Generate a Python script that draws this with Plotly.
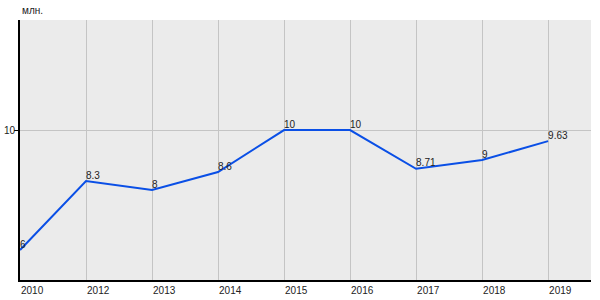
import plotly.graph_objects as go

years = ["2010", "2012", "2013", "2014", "2015", "2016", "2017", "2018", "2019"]
values = [6, 8.3, 8, 8.6, 10, 10, 8.71, 9, 9.63]
labels = ["6", "8.3", "8", "8.6", "10", "10", "8.71", "9", "9.63"]
y_ticks = [10]
unit = "млн."

fig = go.Figure()
fig.add_trace(go.Scatter(
    x=years, y=values, mode="lines+text", text=labels,
    textposition="top right",
    textfont=dict(family="Arial, Liberation Sans", size=10, color="#222"),
    line=dict(color="#0a4fe6", width=2),
    cliponaxis=False, hoverinfo="skip"))

fig.update_layout(
    width=600, height=300,
    margin=dict(l=20, r=9, t=20, b=20),
    paper_bgcolor="white", plot_bgcolor="#ebebeb",
    showlegend=False,
    font=dict(family="Arial, Liberation Sans", size=10, color="#222"),
    xaxis=dict(type="category", range=[0, 8.65], showgrid=True,
               gridcolor="#c4c4c4", gridwidth=1, showline=True,
               linecolor="black", linewidth=2, ticks="",
               ticklabelposition="outside right", zeroline=False,
               automargin=False,
               tickfont=dict(size=10, color="#222")),
    yaxis=dict(range=[5, 13.67], tickvals=y_ticks, showgrid=True,
               gridcolor="#c4c4c4", gridwidth=1, showline=True,
               linecolor="black", linewidth=2, ticks="outside",
               ticklen=4, tickcolor="black", zeroline=False,
               automargin=False, ticklabelstandoff=-3,
               tickfont=dict(size=10, color="#222")),
    annotations=[dict(text=unit, x=0, y=1, xref="paper", yref="paper",
                      xanchor="left", yanchor="bottom", yshift=2,
                      showarrow=False, font=dict(size=10, color="#222"))],
)
fig.write_html("out.html")
